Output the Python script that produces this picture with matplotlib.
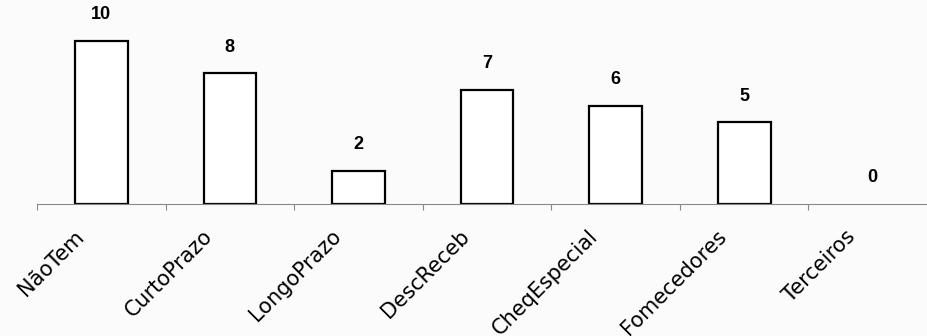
import numpy as np
import matplotlib
matplotlib.use('Agg')
import matplotlib.pyplot as plt

categories = ['NãoTem', 'CurtoPrazo', 'LongoPrazo', 'DescReceb', 'CheqEspecial', 'Fomecedores', 'Terceiros']
values = [10, 8, 2, 7, 6, 5, 0]

plt.rcParams['font.family'] = ['Liberation Sans', 'DejaVu Sans']

fig = plt.figure(figsize=(9.27, 3.36), dpi=100, facecolor='#fbfbfb')
# axes spans the x-axis line; right end runs slightly past the image edge
ax = fig.add_axes([37 / 927, 1 - 204 / 336, 900 / 927, 204 / 336])
ax.set_facecolor('#fbfbfb')

x = np.arange(len(categories))
bars = ax.bar(x, values, width=0.41, facecolor='white', edgecolor='black', linewidth=1.6)
for b, v in zip(bars, values):
    if v == 0:
        b.set_edgecolor('none')  # empty bar draws nothing

for xi, v in zip(x, values):
    ax.annotate(str(v), (xi, v), xytext=(0, 19), textcoords='offset points',
                ha='center', va='center', fontsize=13, fontweight='bold')

ax.set_xlim(-0.5, len(categories) - 0.5)
ax.set_ylim(0, 12.5)

# ticks between categories, labels rotated under each bar
ax.set_xticks(np.arange(len(categories) + 1) - 0.5)
ax.set_xticklabels([])
ax.tick_params(axis='x', direction='out', length=4, width=0.8, color='#888888')
for xi, name in zip(x, categories):
    ax.annotate(name, (xi, 0), xytext=(-20, -16), textcoords='offset points',
                ha='right', va='top', rotation=45, rotation_mode='anchor',
                fontsize=15, family='DejaVu Sans', annotation_clip=False)

ax.set_yticks([])
for side in ['left', 'right', 'top']:
    ax.spines[side].set_visible(False)
ax.spines['bottom'].set_color('#888888')
ax.spines['bottom'].set_linewidth(0.8)

fig.savefig('out.png', dpi=100, facecolor=fig.get_facecolor())
